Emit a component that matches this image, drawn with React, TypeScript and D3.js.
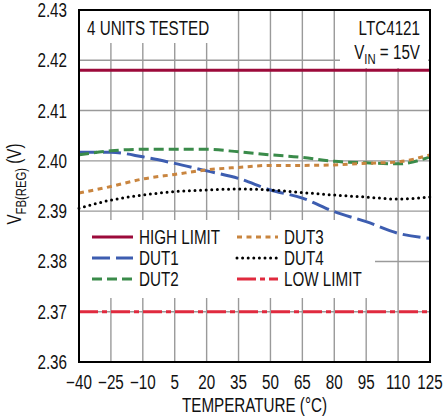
import { useEffect, useRef } from 'react';
import * as d3 from 'd3';

const TEMPS = [-40, -25, -10, 5, 20, 35, 50, 65, 80, 95, 110, 125];
const Y_TICKS = [2.36, 2.37, 2.38, 2.39, 2.40, 2.41, 2.42, 2.43];

const DUT1 = [2.4017, 2.4017, 2.4008, 2.3995, 2.3980, 2.3965, 2.3942, 2.3926, 2.3899, 2.3879, 2.3856, 2.3846];
const DUT2 = [2.4012, 2.4020, 2.4023, 2.4023, 2.4023, 2.4018, 2.4012, 2.4007, 2.3999, 2.3996, 2.3994, 2.4008];
const DUT3 = [2.3936, 2.3949, 2.3964, 2.3973, 2.3982, 2.3987, 2.3991, 2.3991, 2.3992, 2.3995, 2.3998, 2.4012];
const DUT4 = [2.3906, 2.3922, 2.3932, 2.3939, 2.3942, 2.3944, 2.3942, 2.3937, 2.3932, 2.3928, 2.3924, 2.3928];
const HIGH_LIMIT = 2.418;
const LOW_LIMIT = 2.37;

const FONT = "'Liberation Sans', Arial, sans-serif";
const FS = 19.5;
const NARROW = 0.78;

const SERIES = [
  { name: 'DUT1', values: DUT1, color: '#3D5DB0', dash: '18,6', cap: 'butt' },
  { name: 'DUT2', values: DUT2, color: '#3A8B4A', dash: '10,5', cap: 'butt' },
  { name: 'DUT3', values: DUT3, color: '#C9853F', dash: '5,4.5', cap: 'butt' },
  { name: 'DUT4', values: DUT4, color: '#000000', dash: '0,5.6', cap: 'round' },
];

// condensed text: Arial metrics squeezed horizontally, like Helvetica Condensed
function label(parent: any, x: number, y: number, anchor: string, rotate = 0) {
  return parent.append('text')
    .attr('transform', `translate(${x},${y}) rotate(${rotate}) scale(${NARROW},1)`)
    .attr('dy', '0.36em')
    .attr('text-anchor', anchor)
    .attr('font-family', FONT)
    .attr('font-size', FS)
    .attr('fill', '#111');
}

export default function App() {
  const svgRef = useRef<SVGSVGElement>(null);

  useEffect(() => {
    const el = svgRef.current;
    if (!el) return;
    const svg = d3.select(el);
    svg.selectAll('*').remove();

    const W = 444;
    const H = 419;
    const margin = { top: 10, right: 14, bottom: 57, left: 79 };
    const iW = W - margin.left - margin.right;
    const iH = H - margin.top - margin.bottom;

    const x = d3.scaleLinear().domain([-40, 125]).range([0, iW]);
    const y = d3.scaleLinear().domain([2.36, 2.43]).range([iH, 0]);

    svg.append('rect').attr('width', W).attr('height', H).attr('fill', '#fff');
    const g = svg.append('g').attr('transform', `translate(${margin.left},${margin.top})`);

    // grid
    g.append('g').selectAll('line').data(TEMPS.slice(1, -1)).join('line')
      .attr('x1', (d) => x(d)).attr('x2', (d) => x(d))
      .attr('y1', 0).attr('y2', iH)
      .attr('stroke', '#9a9a9a').attr('stroke-width', 1.4);
    g.append('g').selectAll('line').data(Y_TICKS.slice(1, -1)).join('line')
      .attr('x1', 0).attr('x2', iW)
      .attr('y1', (d) => y(d)).attr('y2', (d) => y(d))
      .attr('stroke', '#9a9a9a').attr('stroke-width', 1.4);

    // text boxes masking the grid
    g.append('rect').attr('x', 0).attr('y', 0).attr('width', 143).attr('height', 33).attr('fill', '#fff');
    g.append('rect').attr('x', 261).attr('y', 0).attr('width', 88).attr('height', 58).attr('fill', '#fff');
    g.append('rect').attr('x', 0).attr('y', 210).attr('width', 296).attr('height', 78).attr('fill', '#fff');

    // limits
    g.append('line').attr('x1', 0).attr('x2', iW)
      .attr('y1', y(HIGH_LIMIT)).attr('y2', y(HIGH_LIMIT))
      .attr('stroke', '#9C0A3A').attr('stroke-width', 3);
    g.append('line').attr('x1', 0).attr('x2', iW)
      .attr('y1', y(LOW_LIMIT)).attr('y2', y(LOW_LIMIT))
      .attr('stroke', '#E02A3E').attr('stroke-width', 3)
      .attr('stroke-dasharray', '19,4,5,4');

    const line = d3.line<number>()
      .x((_, i) => x(TEMPS[i]))
      .y((d) => y(d))
      .curve(d3.curveMonotoneX);

    SERIES.forEach((s) => {
      g.append('path')
        .attr('d', line(s.values))
        .attr('fill', 'none')
        .attr('stroke', s.color)
        .attr('stroke-width', 3)
        .attr('stroke-dasharray', s.dash)
        .attr('stroke-linecap', s.cap);
    });

    // frame
    g.append('rect').attr('x', 0).attr('y', 0).attr('width', iW).attr('height', iH)
      .attr('fill', 'none').attr('stroke', '#000').attr('stroke-width', 2);

    // legend
    const legend = [
      { name: 'HIGH LIMIT', color: '#9C0A3A', dash: null, cap: 'butt', col: 0, row: 0 },
      { name: 'DUT1', color: SERIES[0].color, dash: SERIES[0].dash, cap: 'butt', col: 0, row: 1 },
      { name: 'DUT2', color: SERIES[1].color, dash: SERIES[1].dash, cap: 'butt', col: 0, row: 2 },
      { name: 'DUT3', color: SERIES[2].color, dash: SERIES[2].dash, cap: 'butt', col: 1, row: 0 },
      { name: 'DUT4', color: '#000', dash: SERIES[3].dash, cap: 'round', col: 1, row: 1 },
      { name: 'LOW LIMIT', color: '#E02A3E', dash: '19,4,5,4', cap: 'butt', col: 1, row: 2 },
    ];
    legend.forEach((l) => {
      const lx = l.col === 0 ? 13 : 158;
      const ly = 227 + l.row * 21;
      g.append('line').attr('x1', lx).attr('x2', lx + 41).attr('y1', ly).attr('y2', ly)
        .attr('stroke', l.color).attr('stroke-width', 3)
        .attr('stroke-dasharray', l.dash)
        .attr('stroke-linecap', l.cap);
      label(g, lx + 47, ly, 'start').text(l.name);
    });

    // annotations
    label(g, 8, 18, 'start').text('4 UNITS TESTED');
    label(g, 341, 18, 'end').text('LTC4121');
    const vin = label(g, 341, 42, 'end');
    vin.append('tspan').text('V');
    vin.append('tspan').attr('font-size', 14.5).attr('dy', 5).text('IN');
    vin.append('tspan').attr('dy', -5).text(' = 15V');

    // tick labels
    Y_TICKS.forEach((d) => {
      label(g, -12, y(d), 'end').text(d.toFixed(2));
    });
    TEMPS.forEach((d) => {
      label(g, x(d), iH + 20, 'middle').text(d < 0 ? `\u2212${-d}` : `${d}`);
    });

    label(g, iW / 2, iH + 43, 'middle').text('TEMPERATURE (°C)');

    const yl = label(svg, 14, margin.top + iH / 2 - 2, 'middle', -90);
    yl.append('tspan').text('V');
    yl.append('tspan').attr('font-size', 14.5).attr('dy', 5).text('FB(REG)');
    yl.append('tspan').attr('dy', -5).text(' (V)');
  }, []);

  return (
    <svg ref={svgRef} width={444} height={419}
      style={{ position: 'absolute', left: 0, top: 0, display: 'block' }} />
  );
}
